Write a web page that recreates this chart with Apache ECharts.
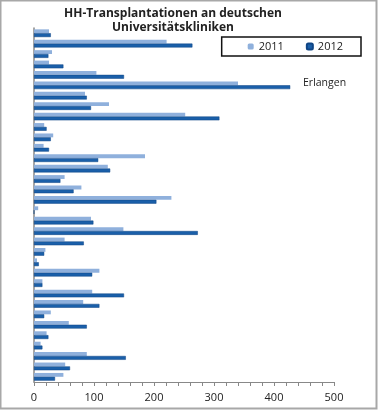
<!DOCTYPE html>
<html><head><meta charset="utf-8">
<script src="https://cdn.jsdelivr.net/npm/echarts@6/dist/echarts.min.js"></script>
<style>html,body{margin:0;padding:0;background:#fff}#c{width:379px;height:411px}</style>
</head><body><div id="c"></div>
<script>
const categories = ['K1','K2','K3','K4','K5','Erlangen','K7','K8','K9','K10','K11','K12','K13','K14','K15','K16','K17','K18','K19','K20','K21','K22','K23','K24','K25','K26','K27','K28','K29','K30','K31','K32','K33','K34'];
const values2011 = [25,221,30,25,104,340,85,125,252,17,32,16,185,123,51,79,229,7,95,149,51,19,5,109,14,97,82,28,58,21,11,88,52,49];
const values2012 = [28,264,24,49,150,427,88,95,309,21,28,25,107,127,44,66,204,0,99,273,83,17,8,97,14,150,109,17,88,24,14,153,60,35];
const xTicks = [0,100,200,300,400,500];

const chart = echarts.init(document.getElementById('c'));
chart.setOption({
  animation:false,
  title:{
    text:'HH-Transplantationen an deutschen\nUniversitätskliniken',
    left:168, top:2, textAlign:'center',
    textStyle:{fontFamily:'Open Sans',fontWeight:'bold',fontSize:12,color:'#222',lineHeight:13.5}
  },
  legend:{
    data:['2011','2012'],
    right:18, top:37, orient:'horizontal',
    itemWidth:6, itemHeight:6, itemGap:22,
    padding:[4,18,4,26],
    borderColor:'#111', borderWidth:1.5,
    textStyle:{fontFamily:'Open Sans',fontSize:11,color:'#222'}
  },
  grid:{left:34,right:45,top:28,bottom:29,containLabel:false},
  xAxis:{
    type:'value', min:xTicks[0], max:xTicks[xTicks.length-1], interval:100,
    axisLine:{show:true,lineStyle:{color:'#888',width:1}},
    axisTick:{show:true,length:4,lineStyle:{color:'#888'}},
    minorTick:{show:true,splitNumber:5,length:4,lineStyle:{color:'#888'}},
    splitLine:{show:false},
    axisLabel:{fontFamily:'Open Sans',fontSize:11,color:'#222',margin:10}
  },
  yAxis:{
    type:'category', data:categories, inverse:true,
    axisLine:{show:true,lineStyle:{color:'#888',width:1.5}},
    axisTick:{show:false},
    axisLabel:{show:false}
  },
  series:[
    {name:'2011',type:'bar',data:values2011,barGap:'0%',barCategoryGap:'26%',
     itemStyle:{color:'#8fb0dc'}},
    {name:'2012',type:'bar',data:values2012,barGap:'0%',barCategoryGap:'26%',
     itemStyle:{color:'#1a5fa9',borderColor:'#0f4585',borderWidth:0.5}}
  ],
  graphic:[
    {type:'text',left:303,top:78,style:{text:'Erlangen',fontFamily:'Open Sans',fontSize:10.5,fill:'#222'}},
    {type:'rect',shape:{x:0.5,y:0.5,width:376,height:408},style:{fill:'none',stroke:'#a8a8a8',lineWidth:2}}
  ]
});
</script></body></html>
